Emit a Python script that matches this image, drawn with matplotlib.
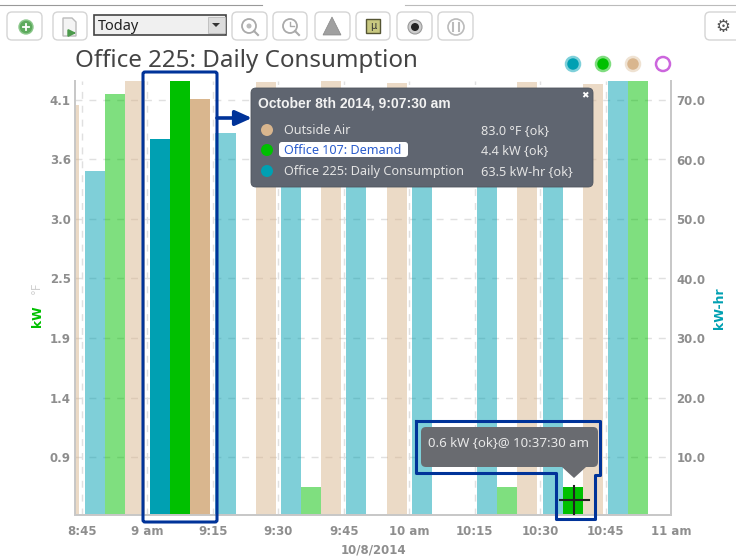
import matplotlib
matplotlib.use("Agg")
import matplotlib.pyplot as plt
import numpy as np
from matplotlib.patches import FancyBboxPatch, Circle, Polygon, Rectangle
from matplotlib.colors import to_rgba

nan = float("nan")

# Minutes after 8:45 for the centre of each 15 minute bucket
bucket_minutes = [-7.5, 7.5, 22.5, 37.5, 52.5, 67.5, 82.5, 97.5, 112.5, 127.5]
consumption_kwh = [nan, 58.2, 63.5, 64.5, 63.0, 65.0, 65.0, 63.0, 63.0, 74.0]
demand_kw = [nan, 4.15, 4.4, nan, 0.63, nan, nan, 0.63, 0.63, 4.4]
outside_air_f = [81.8, 87.0, 83.0, 86.4, 87.0, 86.2, nan, 86.4, 86.0, nan]

# Bars that are drawn at full strength (hovered): 9:07:30 and 10:37:30
consumption_on = [2]
demand_on = [2, 8]
outside_air_on = [2]

tick_minutes = [0, 15, 30, 45, 60, 75, 90, 105, 120, 135]
tick_labels = ["8:45", "9 am", "9:15", "9:30", "9:45", "10 am", "10:15", "10:30", "10:45", "11 am"]
kw_ticks = [0.9, 1.43, 1.97, 2.5, 3.03, 3.57, 4.1]
kw_labels = ["0.9", "1.4", "1.9", "2.5", "3.0", "3.6", "4.1"]
kwh_ticks = [10, 20, 30, 40, 50, 60, 70]

TEAL = "#00A0B2"
GREEN = "#00C000"
TAN = "#D9B68E"
GREY = "#8E8E8E"
NAVY = "#003399"
TIP = "#5F6570"


def shade(color, on, n):
    return [to_rgba(color, 1.0 if i in on else 0.5) for i in range(n)]


W, H = 736, 559
fig = plt.figure(figsize=(W / 100, H / 100), dpi=100, facecolor="white")
ax = fig.add_axes([75 / W, (H - 515) / H, (671 - 75) / W, (515 - 81) / H])
ax_kwh = ax.twinx()
ax_f = ax.twinx()

bar_w = 4.6
x = np.array(bucket_minutes)
n = len(x)
ax_kwh.bar(x - bar_w, consumption_kwh, bar_w, color=shade(TEAL, consumption_on, n))
ax.bar(x, demand_kw, bar_w, color=shade(GREEN, demand_on, n), zorder=3)
ax_f.bar(x + bar_w, outside_air_f, bar_w, color=shade(TAN, outside_air_on, n))

ax.set_xlim(-1.6, 135)
ax.set_ylim(0.38, 4.27)
ax_kwh.set_ylim(0.24, 73.28)
ax_f.set_ylim(0, 86.6)

ax.set_xticks(tick_minutes)
ax.set_xticklabels(tick_labels)
ax.set_yticks(kw_ticks)
ax.set_yticklabels(kw_labels)
ax_kwh.set_yticks(kwh_ticks)
ax_kwh.set_yticklabels(["%.1f" % v for v in kwh_ticks])
ax_f.set_yticks([])

ax.grid(True, color="#E0E0E0", linestyle=(0, (5, 5)), linewidth=1)
ax.set_axisbelow(True)
for a in (ax, ax_kwh, ax_f):
    a.patch.set_visible(False)
    a.spines["top"].set_visible(False)
    a.spines["left"].set_color("#C8C8C8")
    a.spines["right"].set_color("#C8C8C8")
    a.spines["bottom"].set_color("#C8C8C8")
    a.spines["left"].set_linewidth(1.3)
    a.spines["right"].set_linewidth(1.3)
    a.spines["bottom"].set_linewidth(1.3)
    a.tick_params(length=0, labelsize=8.5, labelcolor=GREY)
ax.tick_params(axis="y", pad=3)
ax.tick_params(axis="x", pad=7)
ax_kwh.tick_params(axis="y", pad=4)
for lab in ax.get_xticklabels() + ax.get_yticklabels() + ax_kwh.get_yticklabels():
    lab.set_fontweight("bold")

# everything below sits on a pixel sized overlay
ov = fig.add_axes([0, 0, 1, 1], facecolor="none")
ov.set_xlim(0, W)
ov.set_ylim(H, 0)
ov.axis("off")

ov.text(75, 61, "Office 225: Daily Consumption", fontsize=17.4, color="#444444",
        family="Noto Sans", va="center", ha="left")
ov.text(373, 550, "10/8/2014", fontsize=8.5, fontweight="bold", color=GREY, ha="center", va="center")
ov.text(38, 316, "kW", fontsize=8.8, fontweight="bold", color=GREEN, rotation=90, ha="center", va="center")
ov.text(36, 288, "°F", fontsize=8.5, color="#D0D0D0", rotation=90, ha="center", va="center")
ov.text(719, 308, "kW-hr", fontsize=9, fontweight="bold", color=TEAL, rotation=90, ha="center", va="center")


def button(x0, x1, y0=12, y1=40):
    ov.add_patch(FancyBboxPatch((x0 + 3, y0 + 3), x1 - x0 - 6, y1 - y0 - 6,
                                boxstyle="round,pad=3,rounding_size=5",
                                fc="white", ec="#D5D5D5", lw=1))


# toolbar
ov.plot([0, 262], [5, 5], color="#999999", lw=0.8)
ov.plot([405, 736], [5, 5], color="#BBBBBB", lw=0.8)
for b0, b1 in [(7, 42), (53, 87), (232, 267), (273, 307), (315, 350), (356, 390), (397, 432), (438, 473), (705, 745)]:
    button(b0, b1)
ov.add_patch(Circle((26, 27), 7, fc="#5DAA5D", ec="#8CC88C", lw=1))
ov.plot([23, 29], [27, 27], color="white", lw=1.3)
ov.plot([26, 26], [24, 30], color="white", lw=1.3)
ov.add_patch(Polygon([(63, 18), (72, 18), (76, 22), (76, 36), (63, 36)], fc="#F4F4F4", ec="#BBBBBB", lw=1))
ov.annotate("", xy=(79, 33), xytext=(70, 33), arrowprops=dict(arrowstyle="-|>", color="#4C9A4C", lw=1.5))
ov.add_patch(Rectangle((94, 15), 132, 20, fc="#F0F0F0", ec="#444444", lw=1.2))
ov.add_patch(Rectangle((208, 17), 17, 16, fc="#DDDDDD", ec="#BBBBBB", lw=0.6))
ov.add_patch(Polygon([(212, 23), (220, 23), (216, 27)], fc="#333333"))
ov.text(98, 26, "Today", fontsize=10.5, color="#222222", family="Noto Sans", va="center")
ov.add_patch(Circle((249, 26), 7, fc="none", ec="#AAAAAA", lw=1.3))
ov.add_patch(Circle((249, 26), 2.5, fc="#BBBBBB", ec="none"))
ov.plot([254, 258], [31, 35], color="#AAAAAA", lw=1.5)
ov.add_patch(Circle((290, 26), 7, fc="none", ec="#AAAAAA", lw=1.3))
ov.plot([290, 290, 294], [22, 26, 26], color="#AAAAAA", lw=1)
ov.plot([295, 299], [31, 35], color="#AAAAAA", lw=1.5)
ov.add_patch(Polygon([(332, 17), (323, 35), (341, 35)], fc="#A0A0A0", ec="#888888", lw=0.5))
ov.add_patch(Rectangle((366, 19), 14, 14, fc="#C8C880", ec="#555533", lw=1))
ov.text(373, 26, "µ", fontsize=7, color="#333333", ha="center", va="center")
ov.add_patch(Circle((415, 27), 7, fc="#CCCCCC", ec="#999999", lw=0.8))
ov.add_patch(Circle((415, 27), 4, fc="#222222", ec="none"))
ov.add_patch(Circle((456, 27), 8, fc="white", ec="#BBBBBB", lw=1.2))
ov.plot([453, 453], [23, 31], color="#BBBBBB", lw=1.5)
ov.plot([459, 459], [23, 31], color="#BBBBBB", lw=1.5)
ov.text(723, 27, "⚙", fontsize=12, color="#555555", ha="center", va="center")

# series toggles
for cx, ec, fc in [(573, "#7FD0DA", TEAL), (603, "#80DD80", GREEN), (633, "#EFE2D2", TAN), (663, "#CC66DD", "white")]:
    ov.add_patch(Circle((cx, 64), 7, fc=fc, ec=ec, lw=1.8))

# hover box round the 9:07:30 bars
ov.add_patch(FancyBboxPatch((143, 72), 74, 450, boxstyle="round,pad=0,rounding_size=2",
                            fc="none", ec=NAVY, lw=2.2))
ov.annotate("", xy=(252, 118), xytext=(217, 118),
            arrowprops=dict(arrowstyle="-|>,head_width=0.45,head_length=1.0", color=NAVY, lw=2.6, shrinkA=0, shrinkB=0))

# main tooltip
ov.add_patch(FancyBboxPatch((254, 91), 336, 93, boxstyle="round,pad=3,rounding_size=5", fc=TIP, ec="#4F555F", lw=0.6))
ov.text(258, 104, "October 8th 2014, 9:07:30 am", fontsize=10, fontweight="bold", color="#F2F2F2",
        family="Liberation Sans", va="center")
ov.text(585, 96, "✖", fontsize=6.5, color="white", ha="center", va="center")
ov.add_patch(FancyBboxPatch((281, 144), 125, 11, boxstyle="round,pad=2,rounding_size=3", fc="white", ec="none"))
rows = [(130, TAN, "Outside Air", "83.0 °F {ok}", "#E4E4E4"),
        (150, GREEN, "Office 107: Demand", "4.4 kW {ok}", "#2A5CCC"),
        (171, TEAL, "Office 225: Daily Consumption", "63.5 kW-hr {ok}", "#E4E4E4")]
for ry, col, name, val, tc in rows:
    ov.add_patch(Circle((267, ry), 6, fc=col, ec="none"))
    ov.text(284, ry + 1, name, fontsize=9.1, color=tc, family="Noto Sans", va="center")
    ov.text(481, ry + 1, val, fontsize=9.1, color="#E4E4E4", family="Noto Sans", va="center")

# tooltip for the 10:37:30 bar
ov.add_patch(FancyBboxPatch((424, 430), 171, 34, boxstyle="round,pad=3,rounding_size=5", fc="#696B70", ec="none"))
ov.add_patch(Polygon([(562, 467), (586, 467), (574, 478)], fc="#696B70", ec="none"))
ov.text(428, 443, "0.6 kW {ok}@ 10:37:30 am", fontsize=9.5, color="#E8E8E8", family="Noto Sans", va="center")
ov.plot([416, 600, 600, 595, 595, 556, 556, 416, 416],
        [421, 421, 475, 475, 519, 519, 473, 473, 421], color=NAVY, lw=2.2, solid_joinstyle="round")
ov.plot([560, 589], [500, 500], color="#222222", lw=1.5)
ov.plot([574, 574], [486, 514], color="#222222", lw=1.5)

fig.savefig("out.png", dpi=100)
